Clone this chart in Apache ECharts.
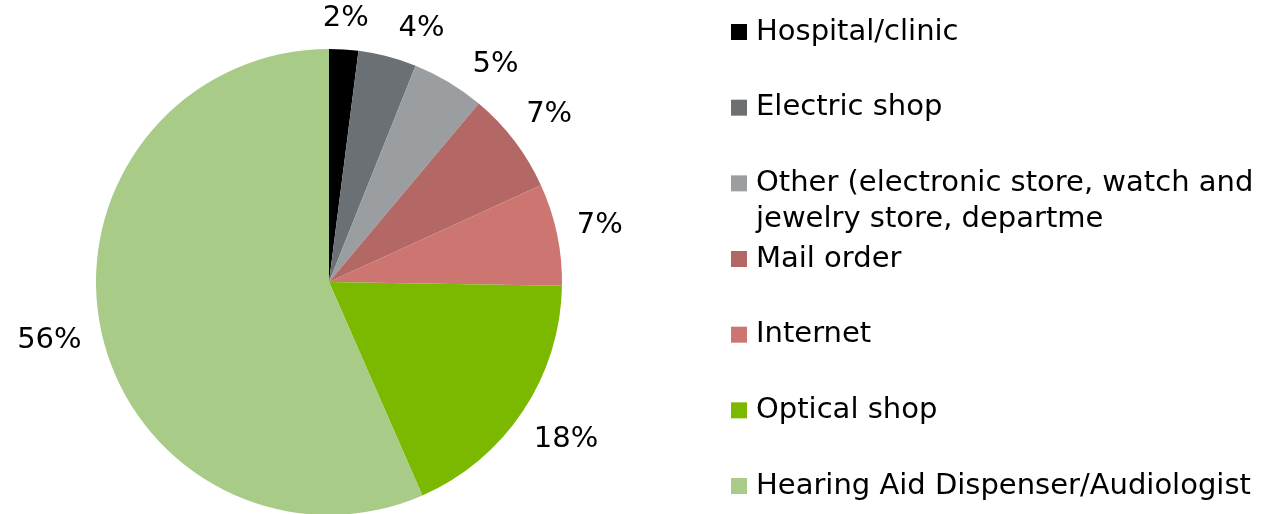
<!DOCTYPE html>
<html>
<head>
<meta charset="utf-8">
<title>Where hearing aids were purchased</title>
<script src="https://cdn.jsdelivr.net/npm/echarts@6/dist/echarts.min.js"></script>
<style>
  html, body { margin: 0; padding: 0; background: #ffffff; }
  #chart { width: 1266px; height: 514px; }
</style>
</head>
<body>
<div id="chart"></div>
<script>
// Purchase channel shares (percent)
const categories = [
  'Hospital/clinic',
  'Electric shop',
  'Other (electronic store, watch and jewelry store, departme',
  'Mail order',
  'Internet',
  'Optical shop',
  'Hearing Aid Dispenser/Audiologist'
];
const shares = [2, 4, 5, 7, 7, 18, 56];
const colors = ['#000000', '#6a7073', '#9b9ea1', '#b36866', '#cd7571', '#7bb800', '#a8cb87'];

const FONT = 'DejaVu Sans';
const FONT_SIZE = 29;
const CX = 329, CY = 282, R = 233;
const LABEL_GAP = 19;       // space between the rim and a label's nearest edge
const LABEL_MARGIN = 28;    // minimum clearance between neighbouring labels
const LEGEND_FIRST = 32, LEGEND_PITCH = 75.67;

const total = shares.reduce((a, b) => a + b, 0);

// Labels sit just beyond the rim on their slice's mid angle; a label that would
// crowd the previous one slides clockwise around the pie until it is clear.
let placedBox = null;
function placeLabel(params) {
  const i = params.dataIndex;
  if (i === 0) placedBox = null;
  let before = 0;
  for (let k = 0; k < i; k++) before += shares[k];
  let angle = (before + shares[i] / 2) / total * Math.PI * 2;
  const w = params.labelRect.width, h = params.labelRect.height * 0.72;

  function boxAt(a) {
    const ux = Math.sin(a), uy = -Math.cos(a);
    const d = R + LABEL_GAP + Math.abs(ux) * w / 2 + Math.abs(uy) * h / 2;
    const x = CX + ux * d, y = CY + uy * d;
    return { x: x, y: y, x0: x - w / 2, x1: x + w / 2, y0: y - h / 2, y1: y + h / 2 };
  }
  function crowds(a, b) {
    return a.x1 + LABEL_MARGIN > b.x0 && b.x1 + LABEL_MARGIN > a.x0 &&
           a.y1 + LABEL_MARGIN > b.y0 && b.y1 + LABEL_MARGIN > a.y0;
  }

  let box = boxAt(angle);
  let steps = 0;
  while (placedBox && crowds(box, placedBox) && steps < 60) {
    angle += Math.PI / 360;
    box = boxAt(angle);
    steps++;
  }
  placedBox = box;
  return { x: box.x, y: box.y, align: 'center', verticalAlign: 'middle' };
}

const legends = categories.map((name, i) => {
  const wraps = i === 2;
  const centre = LEGEND_FIRST + i * LEGEND_PITCH;
  return {
    data: [name],
    orient: 'vertical',
    left: 731,
    // a wrapped entry gets a leading blank line so its first line stays level with the swatch
    top: wraps ? centre - 54 : centre - 18,
    padding: 0,
    itemWidth: 16,
    itemHeight: 16,
    icon: 'rect',
    selectedMode: false,
    formatter: wraps ? (n => '\n' + n) : '{name}',
    textStyle: {
      fontFamily: FONT,
      fontSize: FONT_SIZE,
      color: '#000000',
      lineHeight: 36,
      width: 524,
      overflow: 'break',
      padding: [0, 0, 0, 4]
    }
  };
});

const chart = echarts.init(document.getElementById('chart'), null, { renderer: 'canvas' });
chart.setOption({
  animation: false,
  backgroundColor: '#ffffff',
  color: colors,
  legend: legends,
  series: [{
    type: 'pie',
    center: [CX, CY],
    radius: R,
    startAngle: 90,
    clockwise: true,
    avoidLabelOverlap: false,
    silent: true,
    itemStyle: { borderWidth: 0 },
    label: {
      show: true,
      position: 'outside',
      fontFamily: FONT,
      fontSize: FONT_SIZE,
      color: '#000000',
      formatter: p => p.value + '%'
    },
    labelLine: { show: false },
    labelLayout: placeLabel,
    data: categories.map((name, i) => ({ name: name, value: shares[i] }))
  }]
});
</script>
</body>
</html>
